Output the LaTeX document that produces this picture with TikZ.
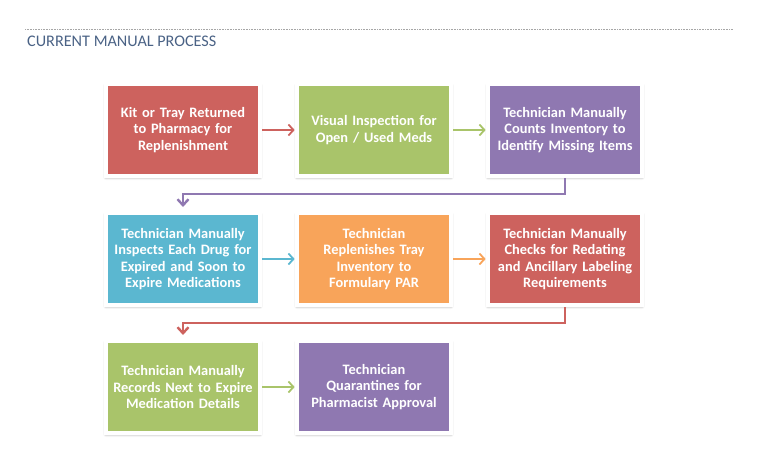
\documentclass[tikz,border=0pt]{standalone}
\usepackage{fontspec}
\setmainfont{Carlito}
\usetikzlibrary{arrows.meta,shadows.blur}

\definecolor{boxred}{HTML}{CD625E}
\definecolor{boxgreen}{HTML}{A9C46A}
\definecolor{boxpurple}{HTML}{8F78B1}
\definecolor{boxblue}{HTML}{5BB7D0}
\definecolor{boxorange}{HTML}{F8A45A}
\definecolor{titleblue}{HTML}{4A6285}

\begin{document}
\begin{tikzpicture}[x=1pt, y=-1pt,
  stepbox/.style={draw=white, line width=4pt, fill=#1, minimum width=154pt,
    minimum height=92pt, text width=148pt, align=center, text=white,
    font=\bfseries\fontsize{14.4}{16.3}\selectfont,
    blur shadow={shadow blur steps=6, shadow xshift=0pt, shadow yshift=-1.5pt,
      shadow blur radius=2.5pt, shadow opacity=45}},
  flow/.style={line width=1.5pt, -{Straight Barb[length=5pt, width=11pt, line width=1.8pt]}},
  turn/.style={line width=1.5pt, shorten >=4pt, -{Straight Barb[length=6pt, width=11pt, line width=2.4pt]}}]
      \useasboundingbox (0,0) rectangle (762,465);
      \draw[gray!70, line width=.6pt, dash pattern=on .6pt off 1pt] (25,29) -- (733,29);
      \node[anchor=base west, inner sep=0, text=titleblue, font=\fontsize{16.2}{18}\selectfont] (title) at (27,47) {CURRENT MANUAL PROCESS};
      % first row
      \node[stepbox=boxred] (b1) at (183,130) {Kit or Tray Returned\\to Pharmacy for\\Replenishment};
      \node[stepbox=boxgreen] (b2) at (374,130) {Visual Inspection for\\Open / Used Meds\\[16pt]};
      \node[stepbox=boxpurple] (b3) at (565,130) {Technician Manually\\Counts Inventory to\\Identify Missing Items};
      % second row
      \node[stepbox=boxblue] (b4) at (183,259) {Technician Manually\\Inspects Each Drug for\\Expired and Soon to\\Expire Medications};
      \node[stepbox=boxorange] (b5) at (374,259) {Technician\\Replenishes Tray\\Inventory to\\Formulary PAR};
      \node[stepbox=boxred] (b6) at (565,259) {Technician Manually\\Checks for Redating\\and Ancillary Labeling\\Requirements};
      % third row
      \node[stepbox=boxgreen] (b7) at (183,387) {Technician Manually\\Records Next to Expire\\Medication Details};
      \node[stepbox=boxpurple] (b8) at (374,387) {Technician\\Quarantines for\\Pharmacist Approval};
      \draw[flow, boxred] (b1) -- (b2);
      \draw[flow, boxgreen] (b2) -- (b3);
      \draw[turn, boxpurple] (b3.south) -- ++(0,16) -| (b4.north);
      \draw[flow, boxblue] (b4) -- (b5);
      \draw[flow, boxorange] (b5) -- (b6);
      \draw[turn, boxred] (b6.south) -- ++(0,16) -| (b7.north);
      \draw[flow, boxgreen] (b7) -- (b8);
\end{tikzpicture}
\end{document}
